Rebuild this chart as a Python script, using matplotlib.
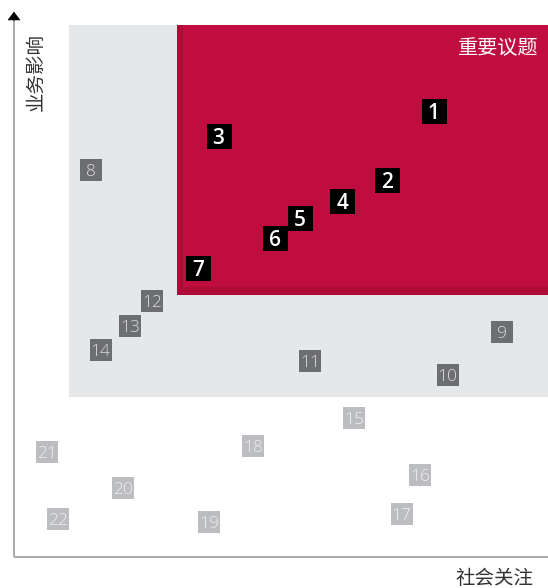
import matplotlib
matplotlib.use("Agg")
import matplotlib.pyplot as plt
from matplotlib.patches import Rectangle

# ---- data ----
issue_ids = [str(i) for i in range(1, 23)]
social_concern = [78.6, 69.8, 38.3, 61.5, 53.5, 48.8, 34.4,
                  14.5, 91.3, 81.2, 55.5, 25.9, 21.8, 16.2,
                  63.7, 76.1, 72.6, 44.8, 36.6, 20.5, 6.1, 8.3]
business_impact = [83.9, 70.8, 79.2, 67.0, 63.8, 59.9, 54.4,
                   72.8, 42.3, 34.3, 36.9, 48.1, 43.4, 38.9,
                   26.2, 15.5, 8.0, 20.8, 6.6, 12.9, 19.8, 7.2]
tiers = ["high"] * 7 + ["mid"] * 7 + ["low"] * 8

# zone thresholds (x0, y0) in data units
mid_zone = (10.3, 30.0)
high_zone = (30.5, 49.2)

x_label = "社会关注"
y_label = "业务影响"
zone_label = "重要议题"

# ---- style ----
tier_style = {
    "high": dict(box="#000000", text="#FFFFFF", size=18.0, fs=15, weight="semibold"),
    "mid": dict(box="#6D6E71", text="#DCDCDC", size=15.2, fs=12.5, weight="light"),
    "low": dict(box="#BCBDC0", text="#EEEEEE", size=15.2, fs=12.5, weight="light"),
}

W, H = 548, 588
fig = plt.figure(figsize=(W / 100, H / 100), dpi=100)
left_px, right_px, bottom_px, top_px = 14, 548, 557, 25
ax = fig.add_axes([left_px / W, (H - bottom_px) / H,
                   (right_px - left_px) / W, (bottom_px - top_px) / H])
ax.set_xlim(0, 100)
ax.set_ylim(0, 100)
ax.axis("off")

# zones
ax.add_patch(Rectangle(mid_zone, 100 - mid_zone[0], 100 - mid_zone[1],
                       facecolor="#E6E7E8", edgecolor="none", zorder=0))
ax.add_patch(Rectangle(high_zone, 100 - high_zone[0], 100 - high_zone[1],
                       facecolor="#AE0B37", edgecolor="none", zorder=1))
ax.add_patch(Rectangle((high_zone[0] + 1.1, high_zone[1] + 1.5),
                       100 - high_zone[0] - 1.1, 100 - high_zone[1] - 1.5,
                       facecolor="#C00D3F", edgecolor="none", zorder=1))

# axes lines
ax.plot([0, 0], [0, 101.3], color="#A7A9AC", lw=1.4, clip_on=False, zorder=2,
        solid_capstyle="butt")
ax.plot([0, 100], [0, 0], color="#A7A9AC", lw=1.4, clip_on=False, zorder=2,
        solid_capstyle="butt")
ax.annotate("", xy=(0, 102.5), xytext=(0, 100.8),
            arrowprops=dict(arrowstyle="-|>,head_length=0.55,head_width=0.42",
                            color="black", lw=0.5, shrinkA=0, shrinkB=0),
            annotation_clip=False)

# points
for name, xv, yv, t in zip(issue_ids, social_concern, business_impact, tiers):
    st = tier_style[t]
    ax.scatter([xv], [yv], marker="s", s=st["size"] ** 2, color=st["box"],
               linewidths=0, zorder=3)
    ax.text(xv, yv, name, ha="center", va="center_baseline", color=st["text"],
            fontsize=st["fs"], family=["Open Sans", "DejaVu Sans"],
            fontweight=st["weight"], zorder=4)

cjk = ["Noto Sans CJK SC", "DejaVu Sans"]
ax.text(98.3, 95.6, zone_label, ha="right", va="center", color="white",
        fontsize=14.5, family=cjk, zorder=4)
ax.text(97.2, -4.1, x_label, ha="right", va="center", color="#333333",
        fontsize=14, family=cjk, clip_on=False)
ax.text(4.1, 91.2, y_label, ha="center", va="center", rotation=90,
        color="#333333", fontsize=14, family=cjk, clip_on=False)

fig.savefig("out.png", dpi=100)
